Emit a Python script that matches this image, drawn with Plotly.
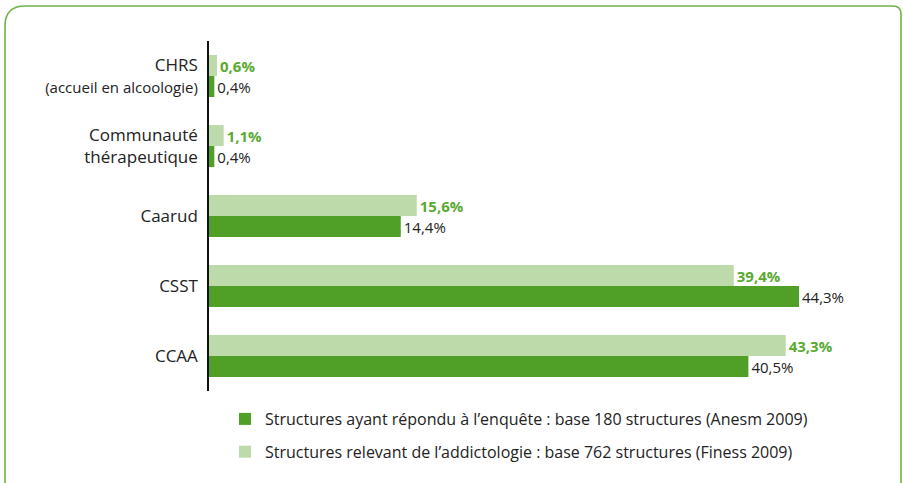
import plotly.graph_objects as go

categories = [
    "CHRS<br><span style='font-size:15px'>(accueil en alcoologie)</span>",
    "Communauté<br>thérapeutique",
    "Caarud",
    "CSST",
    "CCAA",
]
finess_values = [0.6, 1.1, 15.6, 39.4, 43.3]
anesm_values = [0.4, 0.4, 14.4, 44.3, 40.5]
name_anesm = "Structures ayant répondu à l’enquête : base 180 structures (Anesm 2009)"
name_finess = "Structures relevant de l’addictologie : base 762 structures (Finess 2009)"

def fmt(v):
    return f"{v:.1f}".replace(".", ",") + "%"

W, H = 903, 483
ML, MR, MT, MB = 209, 28, 41, 92
PW = W - ML - MR
PH = H - MT - MB

DARK = "#50a028"
LIGHT = "#bcdaaa"
BORDER = "#6cb34a"
LBLGREEN = "#5aaa32"

fig = go.Figure()
fig.add_trace(go.Bar(
    y=categories, x=finess_values, orientation="h", name=name_finess,
    legendgroup="finess", legendrank=2,
    marker=dict(color=LIGHT, line=dict(width=0)),
    text=[fmt(v) for v in finess_values], textposition="outside",
    textfont=dict(color=LBLGREEN, size=15, family="Open Sans", weight="bold"),
    cliponaxis=False, hoverinfo="skip",
))
fig.add_trace(go.Bar(
    y=categories, x=anesm_values, orientation="h", name=name_anesm,
    legendgroup="anesm", legendrank=1,
    marker=dict(color=DARK, line=dict(width=0)),
    text=[fmt(v) for v in anesm_values], textposition="outside",
    textfont=dict(color="#222222", size=15, family="Open Sans"),
    cliponaxis=False, hoverinfo="skip",
))

def px(xp):
    return (xp - ML) / PW

def py(yp):
    return (MT + PH - yp) / PH

# rounded border around the chart
L, T, R, B = 5, 6, 901, 484
r1, r2 = 20, 8
path = (
    f"M {px(L)},{py(B)} L {px(L)},{py(T + r1)} "
    f"Q {px(L)},{py(T)} {px(L + r1)},{py(T)} "
    f"L {px(R - r2)},{py(T)} "
    f"Q {px(R)},{py(T)} {px(R)},{py(T + r2)} "
    f"L {px(R)},{py(B)}"
)
fig.add_shape(type="path", path=path, xref="paper", yref="paper",
              line=dict(color=BORDER, width=1.6))

fig.update_layout(
    width=W, height=H,
    margin=dict(l=ML, r=MR, t=MT, b=MB),
    paper_bgcolor="white", plot_bgcolor="white",
    barmode="group", bargap=0.4, bargroupgap=0,
    showlegend=True,
    legend=dict(
        x=px(225), y=py(402), xanchor="left", yanchor="top",
        traceorder="grouped", tracegroupgap=9,
        font=dict(family="Open Sans", size=16, color="#222222"),
        itemwidth=30,
        bgcolor="rgba(0,0,0,0)",
    ),
    font=dict(family="Open Sans", color="#222222"),
)
fig.update_xaxes(range=[0, PW / (590 / 44.3)], visible=False, fixedrange=True)
fig.update_yaxes(
    autorange="reversed", showline=True, linecolor="#111111", linewidth=1.5,
    ticks="outside", ticklen=6, tickcolor="rgba(0,0,0,0)",
    tickfont=dict(family="Open Sans", size=17, color="#222222"),
    showgrid=False, zeroline=False, fixedrange=True,
)

fig.write_html(
    "out.html",
    config={"displayModeBar": False},
    post_script="document.body.style.margin='0px';document.body.style.overflow='hidden';",
)
